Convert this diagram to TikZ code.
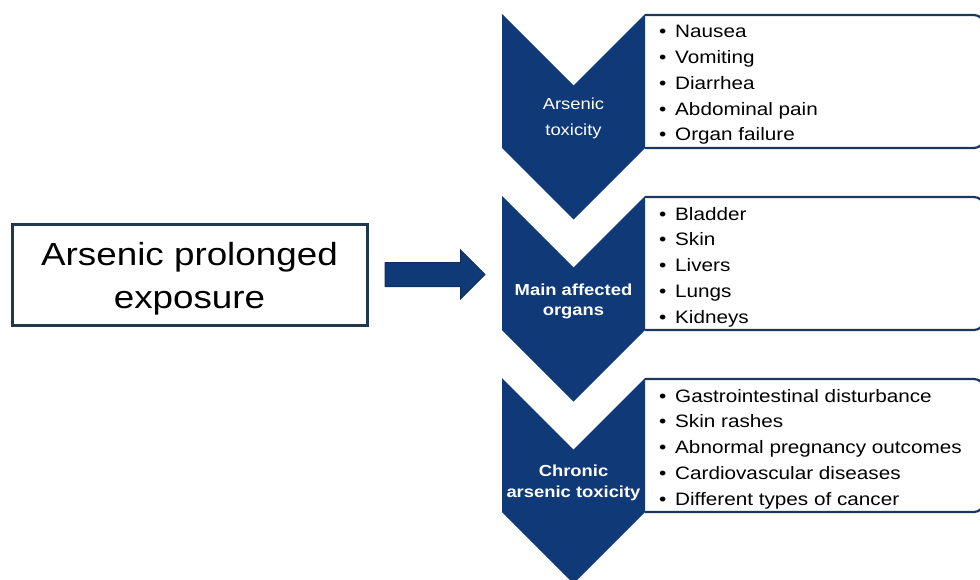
\documentclass[tikz,border=0pt]{standalone}
\usepackage{fontspec}
\setmainfont[FakeStretch=1.15]{Liberation Sans}
\usetikzlibrary{positioning,shapes.arrows}
\definecolor{navy}{RGB}{16,57,120}
\definecolor{boxline}{RGB}{28,54,92}
\definecolor{slate}{RGB}{31,56,78}
\newcommand{\itm}[1]{\makebox[16pt][l]{\textbullet}#1}
\begin{document}
\begin{tikzpicture}[x=1pt,y=-1pt,
    chevron/.style={fill=navy},
    listbox/.style={draw=boxline, line width=2.2pt, rounded corners=10pt},
    stagelabel/.style={text=white, align=center, inner sep=0pt},
    itemlist/.style={anchor=west, align=left, inner sep=0pt, font=\fontsize{18}{25.7}\selectfont},
    blockarrow/.style={single arrow, fill=navy, draw=navy!80!black, line width=1pt,
        minimum height=100pt, minimum width=48pt, single arrow head extend=12.5pt,
        inner xsep=0pt, inner ysep=11.5pt}]
\useasboundingbox (0,0) rectangle (980,579);

% left box and arrow
\node[draw=slate, line width=3pt, minimum width=355pt, minimum height=101pt] (exposure) at (189.5,274.5) {};
\node[align=center, font=\fontsize{32}{43}\selectfont] (exposuretext) at ([yshift=-4.5pt]exposure.center) {Arsenic prolonged\\exposure};
\node[blockarrow, right=16pt of exposure] (arrow) {};

% stage 1
\draw[listbox] (645,15) -- (984,15) -- (984,148) -- (645,148);
\fill[chevron] (502,14) -- (573.5,85.5) -- (645,14) -- (645,148) -- (573.5,219.5) -- (502,148) -- cycle;
\node[stagelabel, font=\fontsize{16}{26}\selectfont] (acute) at (573.5,118) {Arsenic\\toxicity};
\node[itemlist] (acutelist) at (659,85) {\itm{Nausea}\\\itm{Vomiting}\\\itm{Diarrhea}\\\itm{Abdominal pain}\\\itm{Organ failure}};

% stage 2
\draw[listbox] (645,197) -- (984,197) -- (984,330) -- (645,330);
\fill[chevron] (502,196) -- (573.5,267.5) -- (645,196) -- (645,330) -- (573.5,401.5) -- (502,330) -- cycle;
\node[stagelabel, font=\bfseries\fontsize{16}{20}\selectfont] (organs) at (573.5,301) {Main affected\\organs};
\node[itemlist] (organlist) at (659,267) {\itm{Bladder}\\\itm{Skin}\\\itm{Livers}\\\itm{Lungs}\\\itm{Kidneys}};

% stage 3
\draw[listbox] (645,379) -- (984,379) -- (984,512) -- (645,512);
\fill[chevron] (502,378) -- (573.5,449.5) -- (645,378) -- (645,512) -- (573.5,583.5) -- (502,512) -- cycle;
\node[stagelabel, font=\bfseries\fontsize{16}{21}\selectfont] (chronic) at (573.5,483) {Chronic\\arsenic toxicity};
\node[itemlist] (chroniclist) at (659,449) {\itm{Gastrointestinal disturbance}\\\itm{Skin rashes}\\\itm{Abnormal pregnancy outcomes}\\\itm{Cardiovascular diseases}\\\itm{Different types of cancer}};
\end{tikzpicture}
\end{document}
